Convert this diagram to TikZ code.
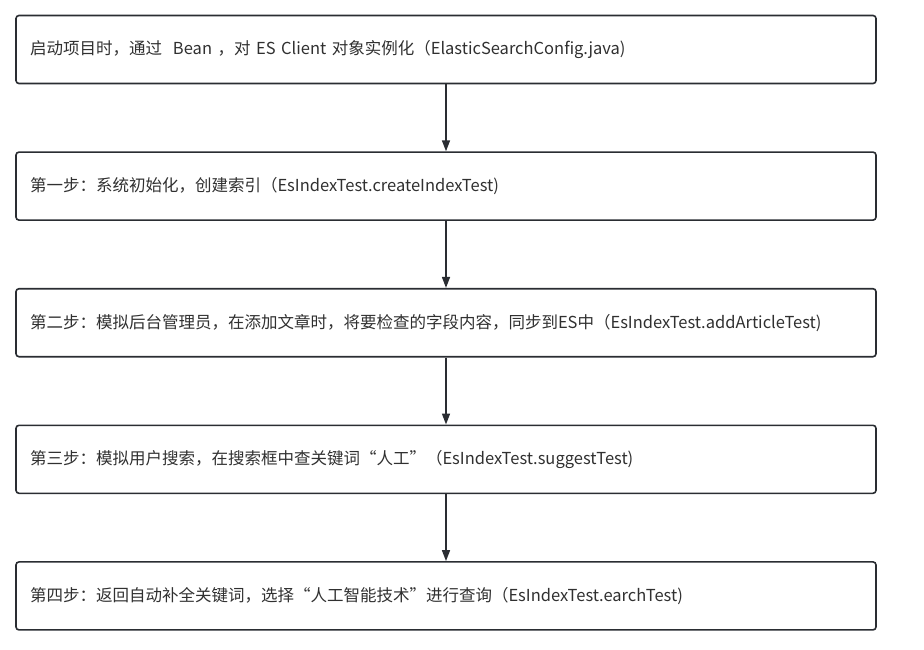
\documentclass[tikz,border=0pt]{standalone}
\usepackage{fontspec}
\setmainfont{Noto Sans CJK SC}
\usetikzlibrary{positioning,arrows.meta}
\begin{document}
\begin{tikzpicture}[x=1pt,y=-1pt,
  stepbox/.style={draw=boxline,line width=1.6pt,rounded corners=3pt,
    minimum height=68pt,text width=832pt,inner xsep=14pt,align=left,
    font=\fontsize{16.5}{18}\selectfont,text=textgray},
  flow/.style={draw=boxline,line width=1.6pt,-{Triangle[length=11pt,width=8pt]}}]

\definecolor{boxline}{RGB}{42,45,50}
\definecolor{textgray}{RGB}{48,48,48}

\useasboundingbox (0,0) rectangle (924,649);

\node[stepbox] (start) at (446,49.5) {启动项目时，通过\ \ Bean ，对 ES Client 对象实例化（ElasticSearchConfig.java)};
\node[stepbox,below=67pt of start] (step1) {第一步：系统初始化，创建索引（EsIndexTest.createIndexTest)};
\node[stepbox,below=67pt of step1] (step2) {第二步：模拟后台管理员，在添加文章时，将要检查的字段内容，同步到ES中（EsIndexTest.addArticleTest)};
\node[stepbox,below=67pt of step2] (step3) {第三步：模拟用户搜索，在搜索框中查关键词“人工”（EsIndexTest.suggestTest)};
\node[stepbox,below=67pt of step3] (step4) {第四步：返回自动补全关键词，选择“人工智能技术”进行查询（EsIndexTest.earchTest)};

\draw[flow] (start) -- (step1);
\draw[flow] (step1) -- (step2);
\draw[flow] (step2) -- (step3);
\draw[flow] (step3) -- (step4);

\end{tikzpicture}
\end{document}
